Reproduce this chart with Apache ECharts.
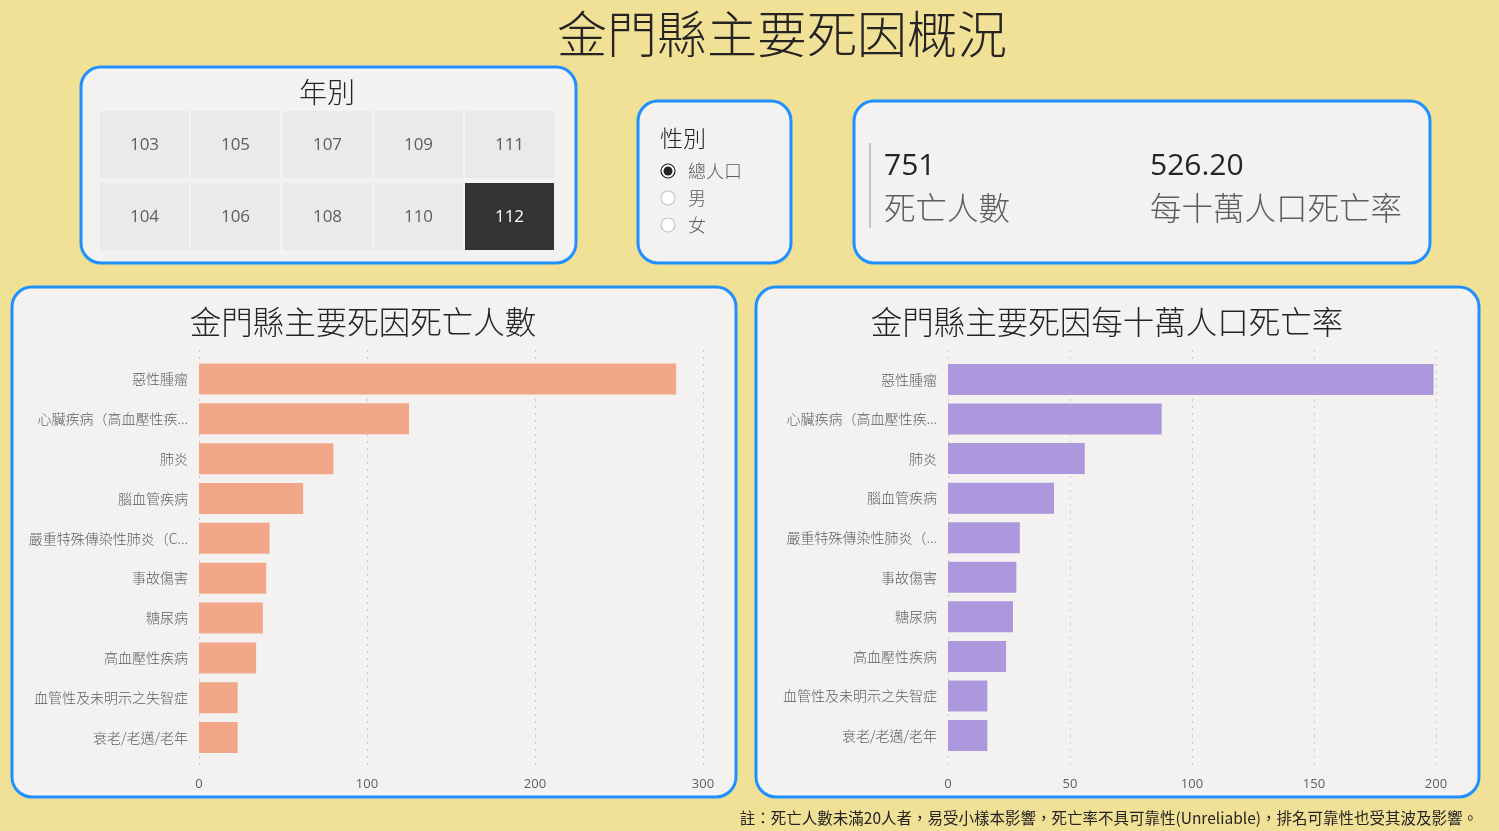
<!DOCTYPE html>
<html><head><meta charset="utf-8">
<script src="https://cdn.jsdelivr.net/npm/echarts@6/dist/echarts.min.js"></script>
<style>html,body{margin:0;padding:0;background:#F0E196;}#c{width:1499px;height:831px;}</style>
</head><body><div id="c"></div>
<script>
// ---- data ----
const mainTitle = '金門縣主要死因概況';
const yearTitle = '年別';
const yearRow1 = ['103','105','107','109','111'];
const yearRow2 = ['104','106','108','110','112'];
const selectedYear = '112';
const genderTitle = '性別';
const genders = ['總人口','男','女'];
const selectedGender = '總人口';
const kpiValues = ['751','526.20'];
const kpiLabels = ['死亡人數','每十萬人口死亡率'];
const leftTitle = '金門縣主要死因死亡人數';
const rightTitle = '金門縣主要死因每十萬人口死亡率';
const categoriesLeft = ['惡性腫瘤','心臟疾病（高血壓性疾...','肺炎','腦血管疾病','嚴重特殊傳染性肺炎（C...','事故傷害','糖尿病','高血壓性疾病','血管性及未明示之失智症','衰老/老邁/老年'];
const categoriesRight = ['惡性腫瘤','心臟疾病（高血壓性疾...','肺炎','腦血管疾病','嚴重特殊傳染性肺炎（...','事故傷害','糖尿病','高血壓性疾病','血管性及未明示之失智症','衰老/老邁/老年'];
const deaths = [284,125,80,62,42,40,38,34,23,23];
const rates = [198.99,87.58,56.05,43.44,29.43,28.03,26.63,23.82,16.12,16.12];
const footnote = '註：死亡人數未滿20人者，易受小樣本影響，死亡率不具可靠性(Unreliable)，排名可靠性也受其波及影響。';

// ---- style ----
const FONT = "'Segoe UI','Open Sans','Noto Sans CJK TC',sans-serif";
const CJK = "'Noto Sans CJK TC','Open Sans',sans-serif";
const PANEL = '#F3F2F1', BORDER = '#1E90FF', DARK = '#252423', GREY = '#605E5C';

const chart = echarts.init(document.getElementById('c'), null, {renderer:'canvas'});
const g = [];
function panel(x,y,w,h){ g.push({type:'rect', shape:{x:x,y:y,width:w,height:h,r:20}, style:{fill:PANEL, stroke:BORDER, lineWidth:3}, z:-10}); }
function txt(t,x,y,size,color,align,fam,weight){ g.push({type:'text', style:{text:t,x:x,y:y,fontSize:size,fill:color,align:align||'center',verticalAlign:'middle',fontFamily:fam||FONT,fontWeight:weight||'normal'}, z:5}); }

txt(mainTitle, 782, 34, 50, DARK, 'center', CJK, 300);

panel(81,67,495,196);
txt(yearTitle, 327, 92, 28, DARK, 'center', CJK, 300);
const colX = [100,191,283,374,465], colW = 89;
[[yearRow1,111],[yearRow2,183]].forEach(([row,ty])=>{
  row.forEach((yv,i)=>{
    const sel = yv===selectedYear;
    g.push({type:'rect', shape:{x:colX[i],y:ty,width:colW,height:67}, style:{fill: sel?'#333333':'#EAEAEA'}, z:1});
    txt(yv, colX[i]+colW/2, ty+34, 17, sel?'#FFFFFF':GREY);
  });
});

panel(638,101,153,162);
txt(genderTitle, 660, 138, 23, DARK, 'left', CJK, 300);
genders.forEach((gn,i)=>{
  const cy = 171 + i*27;
  const sel = gn===selectedGender;
  g.push({type:'circle', shape:{cx:668,cy:cy,r:7}, style:{fill:'#FFFFFF', stroke: sel?DARK:'#C8C6C4', lineWidth:1.2}, z:3});
  if(sel) g.push({type:'circle', shape:{cx:668,cy:cy,r:4.5}, style:{fill:DARK}, z:4});
  txt(gn, 688, cy, 18, GREY, 'left', CJK, 300);
});

panel(854,101,576,162);
g.push({type:'rect', shape:{x:869,y:143,width:2,height:85}, style:{fill:'#C8C6C4'}, z:2});
txt(kpiValues[0], 884, 166, 30, DARK, 'left');
txt(kpiLabels[0], 884, 208, 31.5, GREY, 'left', CJK, 300);
txt(kpiValues[1], 1150, 166, 30, DARK, 'left');
txt(kpiLabels[1], 1150, 208, 31.5, GREY, 'left', CJK, 300);

panel(12,287,724,510);
txt(leftTitle, 363, 322, 31.5, DARK, 'center', CJK, 300);
panel(756,287,723,510);
txt(rightTitle, 1107, 322, 31.5, DARK, 'center', CJK, 300);

txt(footnote, 1478, 818, 15.5, DARK, 'right', CJK);

const yLabel = {color:GREY, fontSize:14, margin:11, fontFamily:CJK, fontWeight:300};
const gridLine = {show:true, lineStyle:{type:[2,5], color:'#C8C8C8', width:1}};
const tickLabel = {color:GREY, fontSize:13, margin:8, fontFamily:FONT};

chart.setOption({
  animation:false,
  backgroundColor:'#F0E196',
  graphic: g,
  grid:[
    {left:199, width:504, top:359, height:398.5, containLabel:false},
    {left:199, width:504, top:350, height:420, containLabel:false},
    {left:948, width:488, top:359.7, height:395.6, containLabel:false},
    {left:948, width:488, top:350, height:420, containLabel:false}
  ],
  xAxis:[
    {gridIndex:0, type:'value', min:0, max:300, interval:100, show:false},
    {gridIndex:1, type:'value', min:0, max:300, interval:100, axisLine:{show:false}, axisTick:{show:false}, splitLine:gridLine, axisLabel:tickLabel},
    {gridIndex:2, type:'value', min:0, max:200, interval:50, show:false},
    {gridIndex:3, type:'value', min:0, max:200, interval:50, axisLine:{show:false}, axisTick:{show:false}, splitLine:gridLine, axisLabel:tickLabel}
  ],
  yAxis:[
    {gridIndex:0, type:'category', inverse:true, data:categoriesLeft, axisLine:{show:false}, axisTick:{show:false}, axisLabel:yLabel},
    {gridIndex:1, type:'value', min:0, max:1, show:false},
    {gridIndex:2, type:'category', inverse:true, data:categoriesRight, axisLine:{show:false}, axisTick:{show:false}, axisLabel:yLabel},
    {gridIndex:3, type:'value', min:0, max:1, show:false}
  ],
  series:[
    {type:'bar', xAxisIndex:0, yAxisIndex:0, data:deaths, barWidth:31, itemStyle:{color:'#F1A788'}, z:3},
    {type:'scatter', xAxisIndex:1, yAxisIndex:1, data:[], silent:true},
    {type:'bar', xAxisIndex:2, yAxisIndex:2, data:rates, barWidth:31, itemStyle:{color:'#AD97DD'}, z:3},
    {type:'scatter', xAxisIndex:3, yAxisIndex:3, data:[], silent:true}
  ]
});
</script></body></html>
